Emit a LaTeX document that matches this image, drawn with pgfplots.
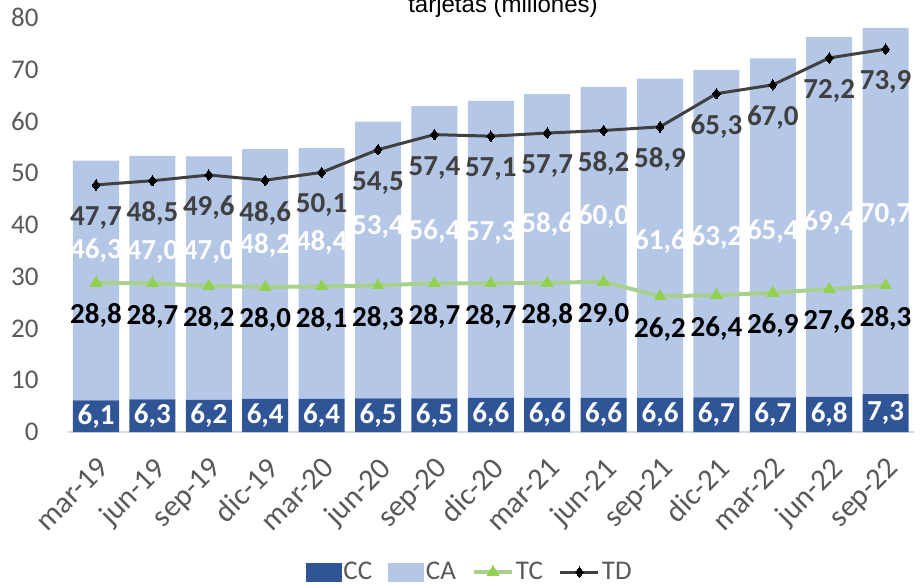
\documentclass[border=0pt]{standalone}
\usepackage{pgfplots}
\pgfplotsset{compat=1.18}
\usepackage{pgfplotstable}
\usepackage{fontspec}
\setmainfont{Carlito}
\newfontfamily\arialf{Liberation Sans}
\usetikzlibrary{calc}

\definecolor{cc}{HTML}{2F5597}
\definecolor{ca}{HTML}{B4C7E7}
\definecolor{tc}{HTML}{A9D18E}
\definecolor{tcmark}{HTML}{92D050}
\definecolor{td}{HTML}{404040}
\definecolor{txt}{HTML}{595959}
\definecolor{ejegris}{HTML}{D9D9D9}

% x: posicion, ly: altura de la etiqueta de CA
\pgfplotstableread{
x lab CC CA TC TD ly
0 mar-19 6.1 46.3 28.8 47.7 35.1
1 jun-19 6.3 47.0 28.7 48.5 34.7
2 sep-19 6.2 47.0 28.2 49.6 34.7
3 dic-19 6.4 48.2 28.0 48.6 36.1
4 mar-20 6.4 48.4 28.1 50.1 36.5
5 jun-20 6.5 53.4 28.3 54.5 39.6
6 sep-20 6.5 56.4 28.7 57.4 38.6
7 dic-20 6.6 57.3 28.7 57.1 38.4
8 mar-21 6.6 58.6 28.8 57.7 40.0
9 jun-21 6.6 60.0 29.0 58.2 41.5
10 sep-21 6.6 61.6 26.2 58.9 36.7
11 dic-21 6.7 63.2 26.4 65.3 37.6
12 mar-22 6.7 65.4 26.9 67.0 38.6
13 jun-22 6.8 69.4 27.6 72.2 40.5
14 sep-22 7.3 70.7 28.3 73.9 41.9
}\datos

\pgfplotsset{
  marco/.style={width=423pt,height=207.25pt,scale only axis,
    xmin=-0.5,xmax=14.5,ymin=0,ymax=80},
  etiq/.style={point meta=explicit,
    nodes near coords={\pgfmathprintnumber[fixed,fixed zerofill,precision=1,use comma,assume math mode=true]{\pgfplotspointmeta}},
    every node near coord/.append style={anchor=center,inner sep=0pt,
      font=\fontsize{14.5}{17}\selectfont\bfseries}},
}

\begin{document}
\begin{tikzpicture}
\begin{axis}[marco,name=a,ybar stacked,bar width=23pt,
  axis x line*=bottom,axis y line*=left,
  y axis line style={draw=none},x axis line style={draw=ejegris,line width=1pt},
  tick style={draw=none},
  ytick={0,10,...,80},xtick={0,...,14},
  xticklabels from table={\datos}{lab},
  tick label style={font=\fontsize{13.5}{16}\selectfont,text=txt},
  xticklabel style={rotate=45,anchor=north east,inner sep=0pt,
    font=\fontsize{15.2}{18}\selectfont},
  xticklabel shift=11.5pt,
  yticklabel style={anchor=east,inner sep=0pt},
  yticklabel shift=14.4pt,
  /pgf/number format/assume math mode=true]
  \addplot[fill=cc,draw=none] table[x=x,y=CC]{\datos};
  \addplot[fill=ca,draw=none] table[x=x,y=CA]{\datos};
\end{axis}
\begin{axis}[marco,at={(a.south west)},anchor=south west,hide axis,clip=false,
  legend style={at={(0.475,-0.338)},anchor=center,draw=none,fill=none,
    font=\fontsize{13.5}{16}\selectfont,text=txt,inner sep=0pt,
    nodes={inner sep=1pt},
    /tikz/every even column/.append style={column sep=7pt}},
  legend columns=4,
  legend image code/.code={\draw[mark repeat=2,mark phase=2,#1] plot coordinates {(0pt,0pt) (9.5pt,0pt) (19pt,0pt)};}]
  \addlegendimage{legend image code/.code={\fill[cc] (0pt,-4.5pt) rectangle (17.5pt,4.5pt);}}
  \addlegendentry{CC}
  \addlegendimage{legend image code/.code={\fill[ca] (0pt,-4.5pt) rectangle (17.5pt,4.5pt);}}
  \addlegendentry{CA}
  \addplot[color=tc,line width=2pt,mark=triangle*,mark size=3.4pt,
    mark options={fill=tcmark,draw=tcmark,line width=0pt},
    etiq,every node near coord/.append style={text=black,yshift=-16.5pt}]
    table[x=x,y=TC,meta=TC]{\datos};
  \addlegendentry{TC}
  \addplot[color=td,line width=1.5pt,mark=diamond*,mark size=2.6pt,
    mark options={fill=black,draw=black,line width=0pt},
    etiq,every node near coord/.append style={text=td,yshift=-16.5pt}]
    table[x=x,y=TD,meta=TD]{\datos};
  \addlegendentry{TD}
  % etiquetas de las barras
  \addplot[draw=none,mark=none,forget plot,etiq,
    every node near coord/.append style={text=white}]
    table[x=x,y expr=\thisrow{CC}/2,meta=CC]{\datos};
  \addplot[draw=none,mark=none,forget plot,etiq,
    every node near coord/.append style={text=white}]
    table[x=x,y=ly,meta=CA]{\datos};
\end{axis}
\node[font=\arialf\fontsize{12}{14}\selectfont,anchor=base]
  at ($(a.south west)+(217.6pt,209.65pt)$) {tarjetas (millones)};
\pgfresetboundingbox
\path[use as bounding box] ($(a.south west)+(-33.9pt,-76.5pt)$)
  rectangle ($(a.south west)+(428.1pt,216pt)$);
\end{tikzpicture}
\end{document}
